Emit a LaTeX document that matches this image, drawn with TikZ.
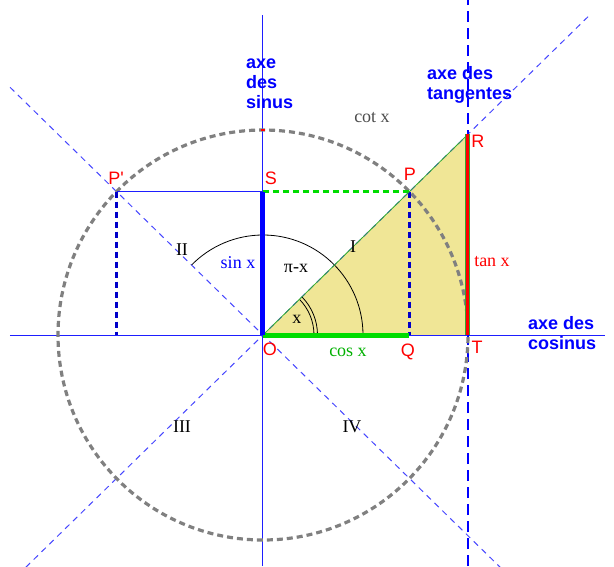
\documentclass[tikz,border=0pt]{standalone}
\usepackage{fontspec}
\setmainfont{Liberation Serif}
\newfontfamily\lsans{Liberation Sans}
\usetikzlibrary{calc}
\definecolor{axblue}{RGB}{30,30,255}
\definecolor{diagblue}{RGB}{70,70,255}
\definecolor{darkblue}{RGB}{0,0,200}
\definecolor{circgray}{RGB}{128,128,128}
\definecolor{khaki}{RGB}{240,230,150}
\definecolor{lgreen}{RGB}{0,220,0}
\definecolor{edgegreen}{RGB}{50,170,50}
\tikzset{
  axisline/.style={draw=axblue, line width=1pt},
  diagline/.style={draw=diagblue, line width=1pt, dash pattern=on 6pt off 5pt},
  tangline/.style={draw=blue, line width=1.2pt, dash pattern=on 11pt off 6pt},
  circleline/.style={draw=circgray, line width=3.2pt, dash pattern=on 6pt off 4pt},
  projline/.style={draw=darkblue, line width=3pt, dash pattern=on 6pt off 4pt},
  anglearc/.style={draw=black, line width=0.8pt},
  ptlabel/.style={text=red, font=\lsans\fontsize{18}{18}\selectfont, inner sep=0pt},
  axlabel/.style={text=blue, font=\lsans\bfseries\fontsize{18}{20}\selectfont, align=left, inner sep=0pt, anchor=west},
  fnlabel/.style={font=\fontsize{18}{18}\selectfont, inner sep=0pt},
}
\begin{document}
\begin{tikzpicture}[x=1pt,y=1pt]
\useasboundingbox (-263,-231) rectangle (351,335);
\pgfmathsetmacro{\ang}{44.4}
\pgfmathsetmacro{\rr}{205}
\coordinate (O) at (0,0);
\coordinate (P) at ({\rr*cos(\ang)},{\rr*sin(\ang)});
\coordinate (Pp) at ({-\rr*cos(\ang)},{\rr*sin(\ang)});
\coordinate (S) at (0,{\rr*sin(\ang)});
\coordinate (Q) at ({\rr*cos(\ang)},0);
\coordinate (Ppb) at ({-\rr*cos(\ang)},0);
\coordinate (T) at (\rr,0);
\coordinate (R) at (\rr,{\rr*tan(\ang)});
\coordinate (D1a) at (\ang:460);
\coordinate (D1b) at (180+\ang:332);
\coordinate (D2a) at (180-\ang:354);
\coordinate (D2b) at (-\ang:332);
\coordinate (Ytop) at (0,320);
\coordinate (Ybot) at (0,-231);
\coordinate (Xl) at (-253,0);
\coordinate (Xr) at (342,0);
\coordinate (Ttop) at (\rr,335);
\coordinate (Tbot) at (\rr,-231);
\coordinate (Ctop) at (0,\rr);
% triangle fill
\fill[khaki] (O) -- (T) -- (R) -- cycle;
% diagonals
\draw[diagline] (D1b) -- (D1a);
\draw[diagline] (D2a) -- (D2b);
% axes
\draw[axisline] (Ybot) -- (Ytop);
\draw[axisline] (Xl) -- (Xr);
\draw[tangline] (Tbot) -- (Ttop);
% circle
\draw[circleline] (O) circle (\rr);
% angle arcs
\draw[anglearc] (100,0) arc[start angle=0, end angle=180-\ang, radius=100];
\draw[anglearc] (51,0) arc[start angle=0, end angle=\ang, radius=51];
\draw[anglearc] (54.5,0) arc[start angle=0, end angle=\ang, radius=54.5];
% projections
\draw[draw=axblue, line width=1pt] (Pp) -- (S);
\draw[projline] (P) -- (Q);
\draw[projline] (Pp) -- (Ppb);
\draw[draw=lgreen, line width=3pt, dash pattern=on 6pt off 4pt] (S) -- (P);
% triangle edges
\draw[draw=edgegreen, line width=0.8pt] (O) -- (R);
\draw[draw=edgegreen, line width=5pt] (T) -- (R);
\draw[draw=red, line width=3pt] (T) -- (R);
\draw[draw=lgreen, line width=5pt] (O) -- (Q);
\draw[draw=blue, line width=5pt] (O) -- (S);
\draw[draw=red, line width=1.2pt] ($(Ctop)+(-2,0)$) -- ($(Ctop)+(2,0)$);
% point labels
\node[ptlabel] (lPp) at (-147,157) {P'};
\node[ptlabel] (lS) at (8,157) {S};
\node[ptlabel] (lP) at (147,161) {P};
\node[ptlabel] (lR) at (215,194) {R};
\node[ptlabel] (lO) at (7,-14) {O};
\node[ptlabel] (lQ) at (145,-17) {Q};
\node[ptlabel] (lT) at (214,-12) {T};
% function labels
\node[fnlabel, text=lgreen!80!black] (lcos) at (85,-17) {cos x};
\node[fnlabel] (lx) at (34,16) {x};
\node[fnlabel] (lpix) at (33,67) {π-x};
\node[fnlabel, text=blue] (lsin) at (-25,72) {sin x};
\node[fnlabel, text=red] (ltan) at (229,73) {tan x};
\node[fnlabel, text=black!70] (lcot) at (109,217) {cot x};
\node[fnlabel] (q1) at (90,88) {I};
\node[fnlabel] (q2) at (-81,85) {II};
\node[fnlabel] (q3) at (-81,-92) {III};
\node[fnlabel] (q4) at (89,-92) {IV};
% axis labels
\node[axlabel] (lsinus) at (-17,251) {axe\\des\\sinus};
\node[axlabel] (ltang) at (164,250) {axe des\\tangentes};
\node[axlabel] (lcosinus) at (265,2) {axe des\\cosinus};
\end{tikzpicture}
\end{document}
